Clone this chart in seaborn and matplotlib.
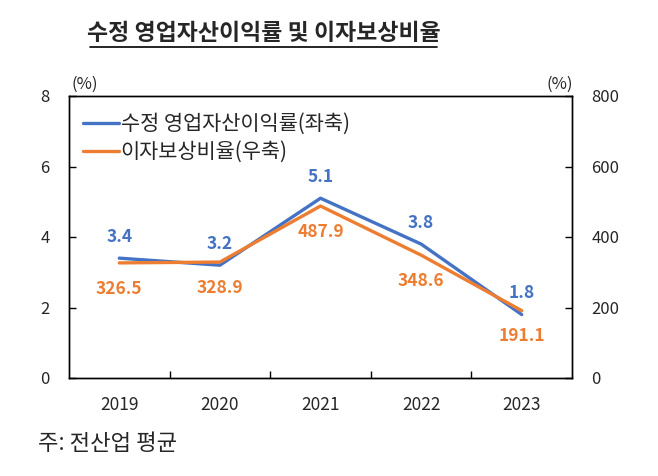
import matplotlib
matplotlib.use("Agg")
import matplotlib.pyplot as plt
import seaborn as sns
import pandas as pd
from matplotlib.lines import Line2D

years = ["2019", "2020", "2021", "2022", "2023"]
profit_rate = [3.4, 3.2, 5.1, 3.8, 1.8]
coverage = [326.5, 328.9, 487.9, 348.6, 191.1]
title = "수정 영업자산이익률 및 이자보상비율"
label_profit = "수정 영업자산이익률(좌축)"
label_cov = "이자보상비율(우축)"
note = "주: 전산업 평균"

sns.set_theme(style="white")
plt.rcParams['font.family'] = ['Noto Sans CJK KR', 'DejaVu Sans']

blue = "#4472C4"
orange = "#ED7D31"

df = pd.DataFrame({"x": range(len(years)), "p": profit_rate, "c": coverage})

fig = plt.figure(figsize=(6.58, 4.76), dpi=100)
ax = fig.add_axes([69/658, 1-378/476, (572-69)/658, (378-96)/476])
ax2 = ax.twinx()

sns.lineplot(data=df, x="x", y="p", ax=ax, color=blue, lw=2.4, legend=False)
sns.lineplot(data=df, x="x", y="c", ax=ax2, color=orange, lw=2.4, legend=False)

ax.set_xlim(-0.5, len(years)-0.5)
ax.set_ylim(0, 8)
ax2.set_ylim(0, 800)
ax.set_yticks([0, 2, 4, 6, 8])
ax2.set_yticks([0, 200, 400, 600, 800])
ax.set_xticks(range(len(years)))
ax.set_xticklabels(years)
ax.set_xticks([i + 0.5 for i in range(len(years)-1)], minor=True)
ax.tick_params(axis='x', which='major', length=0, labelsize=12.5, pad=13)
ax.tick_params(axis='x', which='minor', direction='in', length=5, width=1, color='black', bottom=True)
ax.tick_params(axis='y', direction='in', length=5, width=1, color='black', labelsize=12, pad=14, left=True)
ax2.tick_params(axis='y', direction='in', length=5, width=1, color='black', labelsize=12, pad=14, right=True)
for a in (ax, ax2):
    a.set_xlabel("")
    a.set_ylabel("")
    for s in a.spines.values():
        s.set_color('black')
        s.set_linewidth(1.0)

for i, v in enumerate(profit_rate):
    ax.annotate(f"{v:.1f}", (i, v), xytext=(0, 9), textcoords='offset points',
                ha='center', va='bottom', color=blue, fontsize=12.5, fontweight='bold')
for i, v in enumerate(coverage):
    ax2.annotate(f"{v:.1f}", (i, v), xytext=(0, -12), textcoords='offset points',
                 ha='center', va='top', color=orange, fontsize=12.5, fontweight='bold')

handles = [Line2D([], [], color=blue, lw=2.4), Line2D([], [], color=orange, lw=2.4)]
ax.legend(handles, [label_profit, label_cov], loc='upper left', bbox_to_anchor=(0.028, 0.94),
          frameon=False, fontsize=15, handlelength=1.7, handletextpad=0.1, labelspacing=0.3,
          borderaxespad=0, borderpad=0)

fig.text(85/658, 1-84/476, "(%)", ha='center', va='center', fontsize=12)
fig.text(560/658, 1-84/476, "(%)", ha='center', va='center', fontsize=12)

fig.text(264/658, 1-34/476, title, ha='center', va='center', fontsize=16.5, fontweight='bold')
fig.add_artist(Line2D([90/658, 437/658], [1-47/476, 1-47/476], color='black', lw=1.2))

fig.text(38/658, 1-443/476, note, ha='left', va='center', fontsize=16)

fig.savefig("out.png", dpi=100)
